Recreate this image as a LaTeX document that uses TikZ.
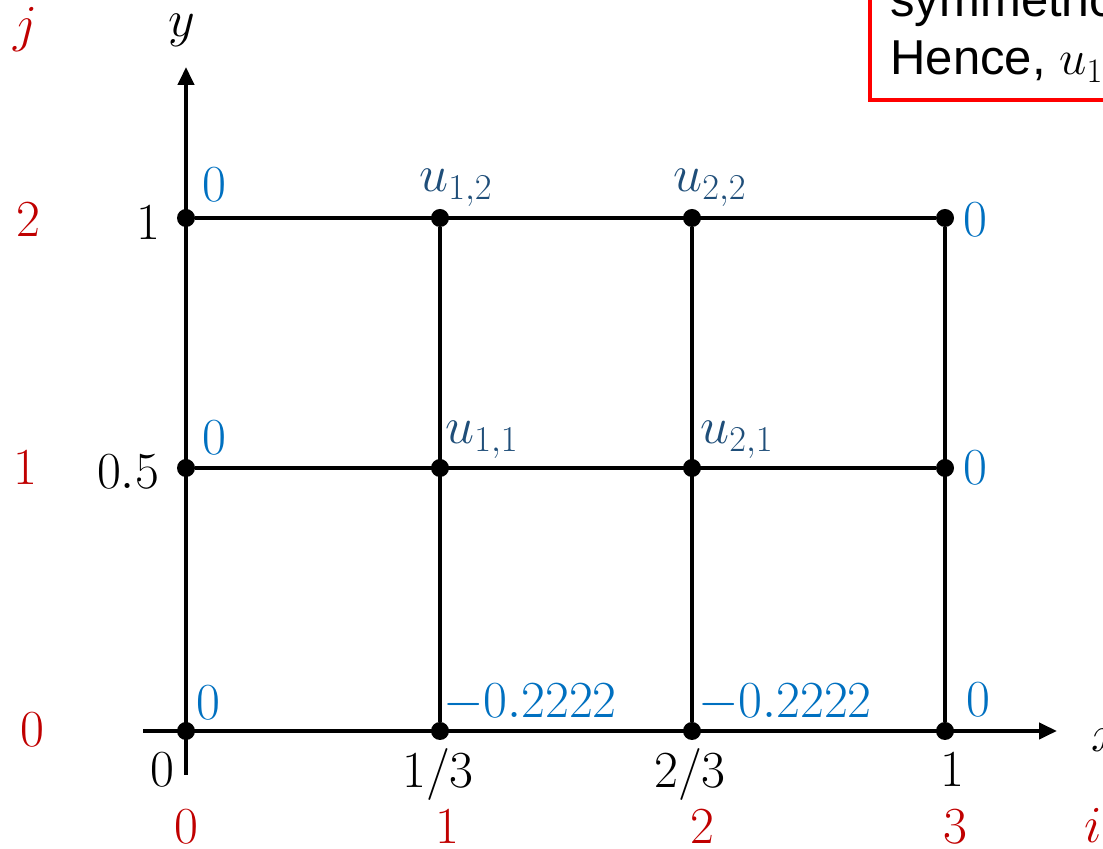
\documentclass[tikz,border=0pt]{standalone}
\usepackage{fix-cm}
\usepackage{amsmath}
\usepackage{fontspec}
\newfontfamily\notefont{Liberation Sans}
\usetikzlibrary{arrows.meta}
\definecolor{idxred}{HTML}{C00000}
\definecolor{bcblue}{HTML}{0070C0}
\definecolor{unkblue}{HTML}{1F4E79}
\begin{document}
\begin{tikzpicture}[x=0.5pt, y=0.5pt, >={Triangle[length=9pt,width=8pt]},
  every node/.style={font=\fontsize{26}{31}\selectfont},
  gridpt/.style={circle, fill=black, inner sep=0pt, minimum size=9pt},
  bc/.style={text=bcblue},
  idx/.style={text=idxred},
  unk/.style={text=unkblue}]
  \useasboundingbox (0,0) rectangle (1103,849);
  \clip (0,0) rectangle (1103,849);
  % note box, cut by the page edge
  \draw[red, line width=2pt] (870,749) rectangle (1180,900);
  \node[anchor=base west, inner sep=0pt, font=\notefont\fontsize{24.5}{29}\selectfont] (note1) at (890,832) {symmetric};
  \node[anchor=base west, inner sep=0pt, font=\notefont\fontsize{24.5}{29}\selectfont] (note2) at (890,774) {Hence, $u_{1,1}$};
  % mesh points
  \foreach \i/\x in {0/186, 1/440, 2/692, 3/945}
    \foreach \j/\y in {0/118, 1/381, 2/631}
      \node[gridpt] (n\i\j) at (\x,\y) {};
  % axes
  \coordinate (xs) at (143,118);
  \coordinate (xe) at (1057,118);
  \coordinate (ys) at (186,74);
  \coordinate (ye) at (186,782);
  \draw[line width=2pt, ->] (xs) -- (xe);
  \draw[line width=2pt, ->] (ys) -- (ye);
  \node (xlab) at (1106,109) {$x$};
  \node (ylab) at (182,819) {$y$};
  % mesh lines
  \draw[line width=2pt] (n02) -- (n32) (n01) -- (n31)
    (n12) -- (n10) (n22) -- (n20) (n32) -- (n30);
  % coordinate values
  \node (y1) at (148,626) {$1$};
  \node (y05) at (128,377) {$0.5$};
  \node (x0) at (162,79) {$0$};
  \node (x13) at (438,74) {$1/3$};
  \node (x23) at (690,74) {$2/3$};
  \node (x1) at (952,79) {$1$};
  % indices
  \node[idx] (jlab) at (25,819) {$j$};
  \node[idx] (j2) at (28,629) {$2$};
  \node[idx] (j1) at (25,381) {$1$};
  \node[idx] (j0) at (32,119) {$0$};
  \node[idx] (i0) at (186,22) {$0$};
  \node[idx] (i1) at (447,22) {$1$};
  \node[idx] (i2) at (702,22) {$2$};
  \node[idx] (i3) at (955,22) {$3$};
  \node[idx] (ilab) at (1093,24) {$i$};
  % boundary values
  \node[bc] (b02) at (214,664) {$0$};
  \node[bc] (b01) at (214,411) {$0$};
  \node[bc] (b00) at (208,146) {$0$};
  \node[bc] (b32) at (975,629) {$0$};
  \node[bc] (b31) at (975,381) {$0$};
  \node[bc] (b30) at (978,149) {$0$};
  \node[bc] (b10) at (530,146) {$-0.2222$};
  \node[bc] (b20) at (785,146) {$-0.2222$};
  % unknowns
  \node[unk] (u12) at (456,661) {$u_{1,2}$};
  \node[unk] (u22) at (710,661) {$u_{2,2}$};
  \node[unk] (u11) at (482,409) {$u_{1,1}$};
  \node[unk] (u21) at (737,409) {$u_{2,1}$};
\end{tikzpicture}
\end{document}
